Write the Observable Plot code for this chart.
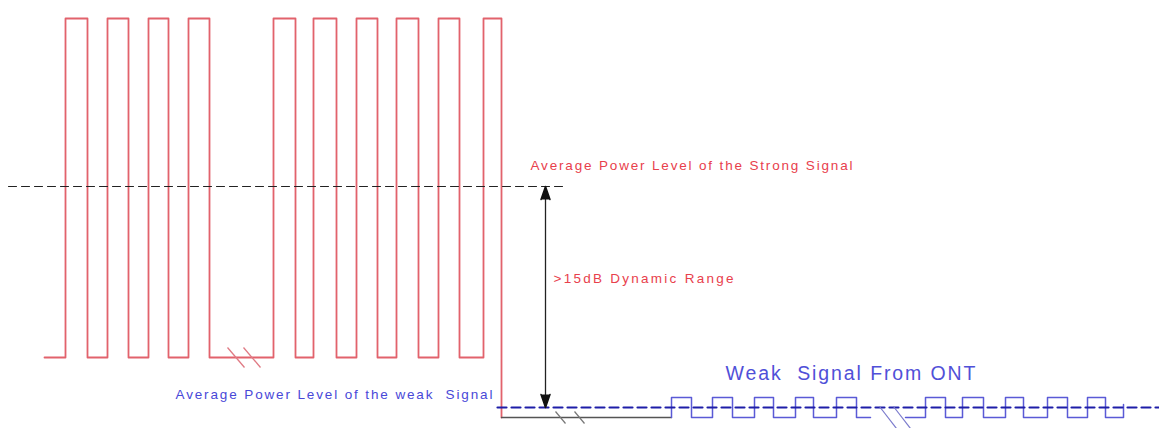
<!DOCTYPE html>
<html>
<head>
<meta charset="utf-8">
<script src="https://cdn.jsdelivr.net/npm/d3@7"></script>
<script src="https://cdn.jsdelivr.net/npm/@observablehq/plot@0.6"></script>
<style>
  html, body { margin: 0; padding: 0; background: #fff; overflow: hidden; }
  #chart svg { display: block; }
</style>
</head>
<body>
<div id="chart"></div>
<script>
// ---- data (x = time position, level = power level, bottom = 0) ----
const strongStartX = 44;
const strongEdges = [65, 87, 107, 128, 148, 168, 188, 209, 273, 295, 313, 336, 356, 377, 396, 418, 438, 459, 483, 501];
const strongHigh = 410;
const strongLow = 71;
const strongAvg = 242;
const strongAvgSpan = [8, 563];

const gapEndX = 671;
const weakEdgesA = [671, 691, 712, 732, 754, 773, 795, 813, 836, 856];
const weakEndA = 870;
const weakStartB = 905;
const weakEdgesB = [925, 945, 962, 983, 1005, 1023, 1047, 1067, 1087, 1105];
const weakEndB = 1123;
const weakHigh = 31;
const weakLow = 11;
const weakAvg = 21;
const weakAvgSpan = [497, 1158];

const arrowX = 545;

const strongBreaks = [227, 243];
const gapBreaks = [555, 574];
const weakBreaks = [879, 893];

const labels = [
  {text: "Average Power Level of the Strong Signal", x: 530, level: 259, color: "#e8404c", size: 13.5, len: 322},
  {text: ">15dB Dynamic Range", x: 553, level: 146, color: "#e8404c", size: 13.5, len: 180},
  {text: "Average Power Level of the weak  Signal", x: 175, level: 30, color: "#4848d8", size: 13.5, len: 317},
  {text: "Weak  Signal From ONT", x: 725, level: 49, color: "#5050d8", size: 19.5, len: 250}
];

// ---- build square-wave polylines from the edge lists ----
function squareWave(startX, edges, hi, lo, startHigh) {
  const pts = [{x: startX, level: startHigh ? hi : lo}];
  let high = startHigh;
  for (const e of edges) {
    pts.push({x: e, level: high ? hi : lo});
    high = !high;
    pts.push({x: e, level: high ? hi : lo});
  }
  return pts;
}

const strongPts = squareWave(strongStartX, strongEdges, strongHigh, strongLow, false);
// last falling edge goes all the way down to the weak baseline
strongPts[strongPts.length - 1] = {x: strongEdges[strongEdges.length - 1], level: weakLow};

const gapPts = [{x: strongEdges[strongEdges.length - 1], level: weakLow}, {x: gapEndX, level: weakLow}];

const weakA = squareWave(gapEndX, weakEdgesA, weakHigh, weakLow, false);
weakA.push({x: weakEndA, level: weakLow});
const weakB = squareWave(weakStartB, weakEdgesB, weakHigh, weakLow, false);
weakB.push({x: weakEndB, level: weakLow});
weakB.push({x: weakEndB, level: weakAvg + 3});

function slashes(xs, level, dx, dy) {
  return xs.map(x => ({x1: x, y1: level + dy, x2: x + dx, y2: level - dy}));
}

const chart = Plot.plot({
  width: 1159,
  height: 428,
  margin: 0,
  x: {domain: [0, 1159], axis: null},
  y: {domain: [0, 428], axis: null},
  style: {fontFamily: "Arial, 'Liberation Sans', sans-serif", background: "#fff"},
  marks: [
    // strong signal
    Plot.line(strongPts, {x: "x", y: "level", stroke: "#e2626c", strokeWidth: 1.8, curve: "linear"}),
    // strong average level
    Plot.line([{x: strongAvgSpan[0], level: strongAvg}, {x: strongAvgSpan[1], level: strongAvg}],
      {x: "x", y: "level", stroke: "#222", strokeWidth: 1.1, strokeDasharray: "8,5"}),
    // gap baseline
    Plot.line(gapPts, {x: "x", y: "level", stroke: "#555", strokeWidth: 1.3}),
    // weak signal
    Plot.line(weakA, {x: "x", y: "level", stroke: "#5a5ad6", strokeWidth: 1.5}),
    Plot.line(weakB, {x: "x", y: "level", stroke: "#5a5ad6", strokeWidth: 1.5}),
    // weak average level
    Plot.line([{x: weakAvgSpan[0], level: weakAvg}, {x: weakAvgSpan[1], level: weakAvg}],
      {x: "x", y: "level", stroke: "#1e1ea8", strokeWidth: 2.2, strokeDasharray: "9,5"}),
    // break marks
    Plot.link(slashes(strongBreaks, strongLow, 17, 10), {x1: "x1", y1: "y1", x2: "x2", y2: "y2", stroke: "#e07a84", strokeWidth: 1.3}),
    Plot.link(slashes(gapBreaks, weakLow, 10, 6), {x1: "x1", y1: "y1", x2: "x2", y2: "y2", stroke: "#777", strokeWidth: 1.2}),
    Plot.link(slashes(weakBreaks, weakLow, 17, 11), {x1: "x1", y1: "y1", x2: "x2", y2: "y2", stroke: "#7a7acc", strokeWidth: 1.2}),
    // dynamic range arrow
    Plot.link([{x: arrowX, a: strongAvg, b: weakAvg}], {x1: "x", x2: "x", y1: "a", y2: "b", stroke: "#222", strokeWidth: 1.3}),
    Plot.vector([{x: arrowX, level: strongAvg}], {x: "x", y: "level", length: 13, rotate: 0, shape: "spike", anchor: "end", r: 4.5, fill: "#111", stroke: "#111"}),
    Plot.vector([{x: arrowX, level: weakAvg}], {x: "x", y: "level", length: 13, rotate: 180, shape: "spike", anchor: "end", r: 4.5, fill: "#111", stroke: "#111"}),
    // labels
    ...labels.map(l => Plot.text([l], {x: "x", y: "level", text: "text", fill: l.color, fontSize: l.size, textAnchor: "start", lineAnchor: "bottom"}))
  ]
});

document.getElementById("chart").appendChild(chart);

// stretch label spacing to match the widths seen in the picture
d3.select(chart).selectAll("text").each(function() {
  const t = this.textContent;
  const l = labels.find(d => d.text === t);
  if (l) {
    d3.select(this).attr("textLength", l.len).attr("lengthAdjust", "spacing").style("white-space", "pre");
  }
});
</script>
</body>
</html>
